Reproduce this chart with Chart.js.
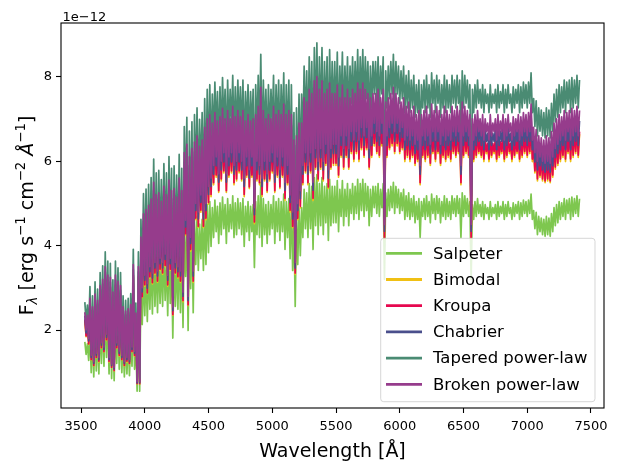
<!DOCTYPE html>
<html><head><meta charset="utf-8">
<script src="https://cdn.jsdelivr.net/npm/chart.js@4.4.0/dist/chart.umd.min.js"></script>
<style>html,body{margin:0;padding:0;background:#fff;}#wrap{width:618px;height:471px;}</style>
</head><body><div id="wrap"><canvas id="c" width="618" height="471"></canvas></div>
<script>
// Wavelength grid [Å]
const wavelength = [
3530,3540,3550,3560,3570,3580,3590,3600,3610,3620,
3630,3640,3650,3660,3670,3680,3690,3700,3710,3720,
3730,3740,3750,3760,3770,3780,3790,3800,3810,3820,
3830,3840,3850,3860,3870,3880,3890,3900,3910,3920,
3930,3940,3950,3960,3970,3980,3990,4000,4010,4020,
4030,4040,4050,4060,4070,4080,4090,4100,4110,4120,
4130,4140,4150,4160,4170,4180,4190,4200,4210,4220,
4230,4240,4250,4260,4270,4280,4290,4300,4310,4320,
4330,4340,4350,4360,4370,4380,4390,4400,4410,4420,
4430,4440,4450,4460,4470,4480,4490,4500,4510,4520,
4530,4540,4550,4560,4570,4580,4590,4600,4610,4620,
4630,4640,4650,4660,4670,4680,4690,4700,4710,4720,
4730,4740,4750,4760,4770,4780,4790,4800,4810,4820,
4830,4840,4850,4860,4870,4880,4890,4900,4910,4920,
4930,4940,4950,4960,4970,4980,4990,5000,5010,5020,
5030,5040,5050,5060,5070,5080,5090,5100,5110,5120,
5130,5140,5150,5160,5170,5180,5190,5200,5210,5220,
5230,5240,5250,5260,5270,5280,5290,5300,5310,5320,
5330,5340,5350,5360,5370,5380,5390,5400,5410,5420,
5430,5440,5450,5460,5470,5480,5490,5500,5510,5520,
5530,5540,5550,5560,5570,5580,5590,5600,5610,5620,
5630,5640,5650,5660,5670,5680,5690,5700,5710,5720,
5730,5740,5750,5760,5770,5780,5790,5800,5810,5820,
5830,5840,5850,5860,5870,5880,5890,5900,5910,5920,
5930,5940,5950,5960,5970,5980,5990,6000,6010,6020,
6030,6040,6050,6060,6070,6080,6090,6100,6110,6120,
6130,6140,6150,6160,6170,6180,6190,6200,6210,6220,
6230,6240,6250,6260,6270,6280,6290,6300,6310,6320,
6330,6340,6350,6360,6370,6380,6390,6400,6410,6420,
6430,6440,6450,6460,6470,6480,6490,6500,6510,6520,
6530,6540,6550,6560,6570,6580,6590,6600,6610,6620,
6630,6640,6650,6660,6670,6680,6690,6700,6710,6720,
6730,6740,6750,6760,6770,6780,6790,6800,6810,6820,
6830,6840,6850,6860,6870,6880,6890,6900,6910,6920,
6930,6940,6950,6960,6970,6980,6990,7000,7010,7020,
7030,7040,7050,7060,7070,7080,7090,7100,7110,7120,
7130,7140,7150,7160,7170,7180,7190,7200,7210,7220,
7230,7240,7250,7260,7270,7280,7290,7300,7310,7320,
7330,7340,7350,7360,7370,7380,7390,7400,7410];

// Flux values in units of 1e-12 erg s^-1 cm^-2 Å^-1
const salpeter = [
1.72,1.42,1.67,1.28,1.95,0.99,1.81,0.89,2.02,1.03,
1.92,0.96,2.17,1.21,2.27,1.14,2.49,1.35,2.34,0.96,
2.31,0.85,2.06,0.80,2.34,1.21,2.24,1.07,2.17,0.99,
1.81,0.89,1.74,0.96,1.78,0.92,1.85,1.14,2.52,1.07,
1.70,0.55,2.49,0.55,2.98,2.13,3.37,2.34,3.44,2.20,
3.51,2.49,3.62,2.38,3.91,2.56,3.69,2.41,3.73,2.63,
3.59,2.56,3.83,2.70,3.69,2.34,3.94,2.63,3.76,1.81,
3.80,2.56,3.66,2.49,3.98,2.41,3.76,2.06,4.40,3.27,
4.54,1.99,4.33,2.98,4.47,2.41,4.58,3.55,4.69,3.41,
4.51,3.69,4.62,3.41,4.83,3.55,4.97,3.83,5.04,3.98,
4.90,4.19,5.08,4.33,4.93,4.05,5.01,4.26,5.15,4.40,
4.97,4.05,5.11,4.33,4.97,4.40,5.18,4.19,5.01,4.26,
5.11,4.40,5.01,4.26,5.11,3.98,4.93,4.33,5.04,4.12,
4.93,4.33,4.97,3.48,5.04,4.26,5.18,4.19,5.50,3.98,
5.11,4.26,4.97,4.05,5.04,4.26,4.97,4.40,5.18,4.05,
5.04,4.33,5.11,4.12,5.04,4.33,5.22,3.91,5.04,4.19,
5.11,3.69,5.04,3.41,4.62,2.56,4.69,3.55,4.90,3.76,
4.90,4.19,5.33,4.40,5.25,4.19,5.47,4.40,5.40,3.91,
5.61,4.47,5.68,4.26,5.47,4.47,5.61,4.26,5.40,4.54,
5.47,4.12,5.57,4.47,5.40,4.54,5.40,4.54,5.54,4.33,
5.33,4.69,5.54,4.47,5.33,4.69,5.47,4.47,5.33,4.76,
5.47,4.62,5.40,4.76,5.57,4.62,5.47,4.83,5.57,4.69,
5.47,4.83,5.40,4.47,5.33,4.69,5.40,4.90,5.40,4.76,
5.47,4.69,5.33,4.90,5.47,3.20,5.25,4.69,5.33,4.83,
5.40,4.90,5.50,4.76,5.40,4.90,5.33,4.76,5.25,4.83,
5.33,4.62,5.18,4.69,5.25,4.62,5.11,4.69,5.18,4.54,
5.04,4.62,5.11,4.19,5.04,4.69,5.11,4.62,5.18,4.69,
5.04,4.54,5.22,4.76,5.11,4.62,5.18,4.76,5.11,4.54,
5.04,4.69,5.18,4.62,5.11,4.69,5.04,4.62,5.18,4.76,
5.11,4.69,5.18,4.76,5.11,4.19,5.25,4.69,5.18,4.76,
5.11,4.69,5.04,3.20,4.97,4.62,5.04,4.69,5.11,4.76,
4.97,4.69,5.04,4.62,4.97,4.76,4.90,4.62,5.04,4.69,
4.90,4.76,4.97,4.62,5.04,4.69,4.93,4.76,5.04,4.62,
4.97,4.69,5.04,4.76,4.90,4.62,5.01,4.69,4.97,4.76,
5.04,4.62,5.01,4.69,5.08,4.76,5.04,4.69,5.08,4.76,
5.22,4.62,4.83,4.40,4.79,4.26,4.69,4.33,4.65,4.26,
4.62,4.22,4.69,4.26,4.65,4.22,4.76,4.33,4.90,4.47,
4.97,4.54,5.04,4.62,5.01,4.69,5.11,4.62,5.08,4.76,
5.11,4.62,5.15,4.69,5.11,4.76,5.18,4.69,5.11];

const bimodal = [
2.23,1.84,2.17,1.66,2.54,1.29,2.35,1.15,2.63,1.34,
2.49,1.24,2.81,1.57,2.95,1.48,3.23,1.75,3.04,1.24,
3.00,1.11,2.67,1.03,3.04,1.57,2.90,1.38,2.81,1.29,
2.35,1.15,2.26,1.24,2.31,1.20,2.40,1.48,3.27,1.38,
2.21,0.72,3.23,0.72,3.87,2.77,4.38,3.04,4.47,2.86,
4.56,3.23,4.70,3.09,5.07,3.32,4.79,3.13,4.84,3.41,
4.66,3.32,4.98,3.50,4.79,3.04,5.12,3.41,4.89,2.35,
4.93,3.32,4.75,3.23,5.16,3.13,4.89,2.67,5.72,4.24,
5.90,2.58,5.62,3.87,5.81,3.13,5.95,4.61,6.09,4.43,
5.85,4.79,5.99,4.43,6.27,4.61,6.45,4.98,6.55,5.16,
6.36,5.44,6.59,5.62,6.41,5.26,6.50,5.53,6.68,5.72,
6.45,5.26,6.64,5.62,6.45,5.72,6.73,5.44,6.50,5.53,
6.64,5.72,6.50,5.53,6.64,5.16,6.41,5.62,6.55,5.35,
6.41,5.62,6.45,4.52,6.55,5.53,6.73,5.44,7.15,5.16,
6.64,5.53,6.45,5.26,6.55,5.53,6.45,5.72,6.73,5.26,
6.55,5.62,6.64,5.35,6.55,5.62,6.78,5.07,6.55,5.44,
6.64,4.79,6.55,4.43,5.99,3.32,6.09,4.61,6.36,4.89,
6.36,5.44,6.92,5.72,6.82,5.44,7.10,5.72,7.01,5.07,
7.28,5.81,7.38,5.53,7.10,5.81,7.28,5.53,7.01,5.90,
7.10,5.35,7.24,5.81,7.01,5.90,7.01,5.90,7.19,5.62,
6.92,6.09,7.19,5.81,6.92,6.09,7.10,5.81,6.92,6.18,
7.10,5.99,7.01,6.18,7.24,5.99,7.10,6.27,7.24,6.09,
7.10,6.27,7.01,5.81,6.92,6.09,7.01,6.36,7.01,6.18,
7.10,6.09,6.92,6.36,7.10,4.15,6.82,6.09,6.92,6.27,
7.01,6.36,7.15,6.18,7.01,6.36,6.92,6.18,6.82,6.27,
6.92,5.99,6.73,6.09,6.82,5.99,6.64,6.09,6.73,5.90,
6.55,5.99,6.64,5.44,6.55,6.09,6.64,5.99,6.73,6.09,
6.55,5.90,6.78,6.18,6.64,5.99,6.73,6.18,6.64,5.90,
6.55,6.09,6.73,5.99,6.64,6.09,6.55,5.99,6.73,6.18,
6.64,6.09,6.73,6.18,6.64,5.44,6.82,6.09,6.73,6.18,
6.64,6.09,6.55,4.15,6.45,5.99,6.55,6.09,6.64,6.18,
6.45,6.09,6.55,5.99,6.45,6.18,6.36,5.99,6.55,6.09,
6.36,6.18,6.45,5.99,6.55,6.09,6.41,6.18,6.55,5.99,
6.45,6.09,6.55,6.18,6.36,5.99,6.50,6.09,6.45,6.18,
6.55,5.99,6.50,6.09,6.59,6.18,6.55,6.09,6.59,6.18,
6.78,5.99,6.27,5.72,6.22,5.53,6.09,5.62,6.04,5.53,
5.99,5.49,6.09,5.53,6.04,5.49,6.18,5.62,6.36,5.81,
6.45,5.90,6.55,5.99,6.50,6.09,6.64,5.99,6.59,6.18,
6.64,5.99,6.68,6.09,6.64,6.18,6.73,6.09,6.64];

const kroupa = [
2.25,1.86,2.19,1.67,2.56,1.30,2.37,1.16,2.65,1.35,
2.51,1.26,2.84,1.58,2.98,1.49,3.26,1.77,3.07,1.26,
3.02,1.12,2.70,1.04,3.07,1.58,2.93,1.40,2.84,1.30,
2.37,1.16,2.28,1.26,2.33,1.21,2.42,1.49,3.30,1.40,
2.23,0.73,3.26,0.73,3.91,2.79,4.42,3.07,4.51,2.88,
4.60,3.26,4.74,3.12,5.12,3.35,4.84,3.16,4.88,3.44,
4.70,3.35,5.02,3.53,4.84,3.07,5.16,3.44,4.93,2.37,
4.98,3.35,4.79,3.26,5.21,3.16,4.93,2.70,5.77,4.28,
5.95,2.60,5.67,3.91,5.86,3.16,6.00,4.65,6.14,4.46,
5.91,4.84,6.05,4.46,6.32,4.65,6.51,5.02,6.60,5.21,
6.42,5.49,6.65,5.67,6.46,5.30,6.56,5.58,6.74,5.77,
6.51,5.30,6.70,5.67,6.51,5.77,6.79,5.49,6.56,5.58,
6.70,5.77,6.56,5.58,6.70,5.21,6.46,5.67,6.60,5.39,
6.46,5.67,6.51,4.56,6.60,5.58,6.79,5.49,7.21,5.21,
6.70,5.58,6.51,5.30,6.60,5.58,6.51,5.77,6.79,5.30,
6.60,5.67,6.70,5.39,6.60,5.67,6.84,5.12,6.60,5.49,
6.70,4.84,6.60,4.46,6.05,3.35,6.14,4.65,6.42,4.93,
6.42,5.49,6.98,5.77,6.88,5.49,7.16,5.77,7.07,5.12,
7.35,5.86,7.44,5.58,7.16,5.86,7.35,5.58,7.07,5.95,
7.16,5.39,7.30,5.86,7.07,5.95,7.07,5.95,7.25,5.67,
6.98,6.14,7.25,5.86,6.98,6.14,7.16,5.86,6.98,6.23,
7.16,6.05,7.07,6.23,7.30,6.05,7.16,6.32,7.30,6.14,
7.16,6.32,7.07,5.86,6.98,6.14,7.07,6.42,7.07,6.23,
7.16,6.14,6.98,6.42,7.16,4.19,6.88,6.14,6.98,6.32,
7.07,6.42,7.21,6.23,7.07,6.42,6.98,6.23,6.88,6.32,
6.98,6.05,6.79,6.14,6.88,6.05,6.70,6.14,6.79,5.95,
6.60,6.05,6.70,5.49,6.60,6.14,6.70,6.05,6.79,6.14,
6.60,5.95,6.84,6.23,6.70,6.05,6.79,6.23,6.70,5.95,
6.60,6.14,6.79,6.05,6.70,6.14,6.60,6.05,6.79,6.23,
6.70,6.14,6.79,6.23,6.70,5.49,6.88,6.14,6.79,6.23,
6.70,6.14,6.60,4.19,6.51,6.05,6.60,6.14,6.70,6.23,
6.51,6.14,6.60,6.05,6.51,6.23,6.42,6.05,6.60,6.14,
6.42,6.23,6.51,6.05,6.60,6.14,6.46,6.23,6.60,6.05,
6.51,6.14,6.60,6.23,6.42,6.05,6.56,6.14,6.51,6.23,
6.60,6.05,6.56,6.14,6.65,6.23,6.60,6.14,6.65,6.23,
6.84,6.05,6.32,5.77,6.28,5.58,6.14,5.67,6.09,5.58,
6.05,5.53,6.14,5.58,6.09,5.53,6.23,5.67,6.42,5.86,
6.51,5.95,6.60,6.05,6.56,6.14,6.70,6.05,6.65,6.23,
6.70,6.05,6.74,6.14,6.70,6.23,6.79,6.14,6.70];

const chabrier = [
2.34,1.93,2.27,1.74,2.65,1.35,2.46,1.21,2.75,1.40,
2.61,1.30,2.94,1.64,3.09,1.54,3.38,1.83,3.18,1.30,
3.14,1.16,2.80,1.08,3.18,1.64,3.04,1.45,2.94,1.35,
2.46,1.21,2.36,1.30,2.41,1.25,2.51,1.54,3.43,1.45,
2.32,0.75,3.38,0.75,4.05,2.90,4.58,3.18,4.68,2.99,
4.78,3.38,4.92,3.23,5.31,3.47,5.02,3.28,5.07,3.57,
4.87,3.47,5.21,3.67,5.02,3.18,5.36,3.57,5.11,2.46,
5.16,3.47,4.97,3.38,5.40,3.28,5.11,2.80,5.98,4.44,
6.18,2.70,5.89,4.05,6.08,3.28,6.22,4.83,6.37,4.63,
6.13,5.02,6.27,4.63,6.56,4.83,6.76,5.21,6.85,5.40,
6.66,5.69,6.90,5.89,6.71,5.50,6.80,5.79,7.00,5.98,
6.76,5.50,6.95,5.89,6.76,5.98,7.04,5.69,6.80,5.79,
6.95,5.98,6.80,5.79,6.95,5.40,6.71,5.89,6.85,5.60,
6.71,5.89,6.76,4.73,6.85,5.79,7.04,5.69,7.48,5.40,
6.95,5.79,6.76,5.50,6.85,5.79,6.76,5.98,7.04,5.50,
6.85,5.89,6.95,5.60,6.85,5.89,7.09,5.31,6.85,5.69,
6.95,5.02,6.85,4.63,6.27,3.47,6.37,4.83,6.66,5.11,
6.66,5.69,7.24,5.98,7.14,5.69,7.43,5.98,7.33,5.31,
7.62,6.08,7.72,5.79,7.43,6.08,7.62,5.79,7.33,6.18,
7.43,5.60,7.58,6.08,7.33,6.18,7.33,6.18,7.53,5.89,
7.24,6.37,7.53,6.08,7.24,6.37,7.43,6.08,7.24,6.47,
7.43,6.27,7.33,6.47,7.58,6.27,7.43,6.56,7.58,6.37,
7.43,6.56,7.33,6.08,7.24,6.37,7.33,6.66,7.33,6.47,
7.43,6.37,7.24,6.66,7.43,4.34,7.14,6.37,7.24,6.56,
7.33,6.66,7.48,6.47,7.33,6.66,7.24,6.47,7.14,6.56,
7.24,6.27,7.04,6.37,7.14,6.27,6.95,6.37,7.04,6.18,
6.85,6.27,6.95,5.69,6.85,6.37,6.95,6.27,7.04,6.37,
6.85,6.18,7.09,6.47,6.95,6.27,7.04,6.47,6.95,6.18,
6.85,6.37,7.04,6.27,6.95,6.37,6.85,6.27,7.04,6.47,
6.95,6.37,7.04,6.47,6.95,5.69,7.14,6.37,7.04,6.47,
6.95,6.37,6.85,4.34,6.76,6.27,6.85,6.37,6.95,6.47,
6.76,6.37,6.85,6.27,6.76,6.47,6.66,6.27,6.85,6.37,
6.66,6.47,6.76,6.27,6.85,6.37,6.71,6.47,6.85,6.27,
6.76,6.37,6.85,6.47,6.66,6.27,6.80,6.37,6.76,6.47,
6.85,6.27,6.80,6.37,6.90,6.47,6.85,6.37,6.90,6.47,
7.09,6.27,6.56,5.98,6.51,5.79,6.37,5.89,6.32,5.79,
6.27,5.74,6.37,5.79,6.32,5.74,6.47,5.89,6.66,6.08,
6.76,6.18,6.85,6.27,6.80,6.37,6.95,6.27,6.90,6.47,
6.95,6.27,7.00,6.37,6.95,6.47,7.04,6.37,6.95];

const taperedPowerLaw = [
2.66,2.20,2.59,1.98,3.03,1.54,2.81,1.38,3.14,1.60,
2.97,1.49,3.36,1.87,3.52,1.76,3.85,2.09,3.63,1.49,
3.58,1.32,3.19,1.23,3.63,1.87,3.47,1.65,3.36,1.54,
2.81,1.38,2.70,1.49,2.75,1.43,2.86,1.76,3.91,1.65,
2.64,0.86,3.85,0.86,4.62,3.30,5.23,3.63,5.34,3.41,
5.45,3.85,5.61,3.69,6.05,3.96,5.72,3.74,5.78,4.07,
5.56,3.96,5.94,4.18,5.72,3.63,6.11,4.07,5.83,2.81,
5.89,3.96,5.67,3.85,6.16,3.74,5.83,3.19,6.82,5.06,
7.04,3.08,6.71,4.62,6.93,3.74,7.10,5.50,7.26,5.28,
6.99,5.72,7.15,5.28,7.48,5.50,7.70,5.94,7.81,6.16,
7.59,6.49,7.87,6.71,7.65,6.27,7.76,6.60,7.98,6.82,
7.70,6.27,7.92,6.71,7.70,6.82,8.03,6.49,7.76,6.60,
7.92,6.82,7.76,6.60,7.92,6.16,7.65,6.71,7.81,6.38,
7.65,6.71,7.70,5.39,7.81,6.60,8.03,6.49,8.53,6.16,
7.92,6.60,7.70,6.27,7.81,6.60,7.70,6.82,8.03,6.27,
7.81,6.71,7.92,6.38,7.81,6.71,8.09,6.05,7.81,6.49,
7.92,5.72,7.81,5.28,7.15,3.96,7.26,5.50,7.59,5.83,
7.59,6.49,8.25,6.82,8.14,6.49,8.47,6.82,8.36,6.05,
8.69,6.93,8.80,6.60,8.47,6.93,8.69,6.60,8.36,7.04,
8.47,6.38,8.64,6.93,8.36,7.04,8.36,7.04,8.58,6.71,
8.25,7.26,8.58,6.93,8.25,7.26,8.47,6.93,8.25,7.37,
8.47,7.15,8.36,7.37,8.64,7.15,8.47,7.48,8.64,7.26,
8.47,7.48,8.36,6.93,8.25,7.26,8.36,7.59,8.36,7.37,
8.47,7.26,8.25,7.59,8.47,4.95,8.14,7.26,8.25,7.48,
8.36,7.59,8.53,7.37,8.36,7.59,8.25,7.37,8.14,7.48,
8.25,7.15,8.03,7.26,8.14,7.15,7.92,7.26,8.03,7.04,
7.81,7.15,7.92,6.49,7.81,7.26,7.92,7.15,8.03,7.26,
7.81,7.04,8.09,7.37,7.92,7.15,8.03,7.37,7.92,7.04,
7.81,7.26,8.03,7.15,7.92,7.26,7.81,7.15,8.03,7.37,
7.92,7.26,8.03,7.37,7.92,6.49,8.14,7.26,8.03,7.37,
7.92,7.26,7.81,4.95,7.70,7.15,7.81,7.26,7.92,7.37,
7.70,7.26,7.81,7.15,7.70,7.37,7.59,7.15,7.81,7.26,
7.59,7.37,7.70,7.15,7.81,7.26,7.65,7.37,7.81,7.15,
7.70,7.26,7.81,7.37,7.59,7.15,7.76,7.26,7.70,7.37,
7.81,7.15,7.76,7.26,7.87,7.37,7.81,7.26,7.87,7.37,
8.09,7.15,7.48,6.82,7.43,6.60,7.26,6.71,7.21,6.60,
7.15,6.55,7.26,6.60,7.21,6.55,7.37,6.71,7.59,6.93,
7.70,7.04,7.81,7.15,7.76,7.26,7.92,7.15,7.87,7.37,
7.92,7.15,7.98,7.26,7.92,7.37,8.03,7.26,7.92];

const brokenPowerLaw = [
2.42,2.00,2.35,1.80,2.75,1.40,2.55,1.25,2.85,1.45,
2.70,1.35,3.05,1.70,3.20,1.60,3.50,1.90,3.30,1.35,
3.25,1.20,2.90,1.12,3.30,1.70,3.15,1.50,3.05,1.40,
2.55,1.25,2.45,1.35,2.50,1.30,2.60,1.60,3.55,1.50,
2.40,0.78,3.50,0.78,4.20,3.00,4.75,3.30,4.85,3.10,
4.95,3.50,5.10,3.35,5.50,3.60,5.20,3.40,5.25,3.70,
5.05,3.60,5.40,3.80,5.20,3.30,5.55,3.70,5.30,2.55,
5.35,3.60,5.15,3.50,5.60,3.40,5.30,2.90,6.20,4.60,
6.40,2.80,6.10,4.20,6.30,3.40,6.45,5.00,6.60,4.80,
6.35,5.20,6.50,4.80,6.80,5.00,7.00,5.40,7.10,5.60,
6.90,5.90,7.15,6.10,6.95,5.70,7.05,6.00,7.25,6.20,
7.00,5.70,7.20,6.10,7.00,6.20,7.30,5.90,7.05,6.00,
7.20,6.20,7.05,6.00,7.20,5.60,6.95,6.10,7.10,5.80,
6.95,6.10,7.00,4.90,7.10,6.00,7.30,5.90,7.75,5.60,
7.20,6.00,7.00,5.70,7.10,6.00,7.00,6.20,7.30,5.70,
7.10,6.10,7.20,5.80,7.10,6.10,7.35,5.50,7.10,5.90,
7.20,5.20,7.10,4.80,6.50,3.60,6.60,5.00,6.90,5.30,
6.90,5.90,7.50,6.20,7.40,5.90,7.70,6.20,7.60,5.50,
7.90,6.30,8.00,6.00,7.70,6.30,7.90,6.00,7.60,6.40,
7.70,5.80,7.85,6.30,7.60,6.40,7.60,6.40,7.80,6.10,
7.50,6.60,7.80,6.30,7.50,6.60,7.70,6.30,7.50,6.70,
7.70,6.50,7.60,6.70,7.85,6.50,7.70,6.80,7.85,6.60,
7.70,6.80,7.60,6.30,7.50,6.60,7.60,6.90,7.60,6.70,
7.70,6.60,7.50,6.90,7.70,4.50,7.40,6.60,7.50,6.80,
7.60,6.90,7.75,6.70,7.60,6.90,7.50,6.70,7.40,6.80,
7.50,6.50,7.30,6.60,7.40,6.50,7.20,6.60,7.30,6.40,
7.10,6.50,7.20,5.90,7.10,6.60,7.20,6.50,7.30,6.60,
7.10,6.40,7.35,6.70,7.20,6.50,7.30,6.70,7.20,6.40,
7.10,6.60,7.30,6.50,7.20,6.60,7.10,6.50,7.30,6.70,
7.20,6.60,7.30,6.70,7.20,5.90,7.40,6.60,7.30,6.70,
7.20,6.60,7.10,4.50,7.00,6.50,7.10,6.60,7.20,6.70,
7.00,6.60,7.10,6.50,7.00,6.70,6.90,6.50,7.10,6.60,
6.90,6.70,7.00,6.50,7.10,6.60,6.95,6.70,7.10,6.50,
7.00,6.60,7.10,6.70,6.90,6.50,7.05,6.60,7.00,6.70,
7.10,6.50,7.05,6.60,7.15,6.70,7.10,6.60,7.15,6.70,
7.35,6.50,6.80,6.20,6.75,6.00,6.60,6.10,6.55,6.00,
6.50,5.95,6.60,6.00,6.55,5.95,6.70,6.10,6.90,6.30,
7.00,6.40,7.10,6.50,7.05,6.60,7.20,6.50,7.15,6.70,
7.20,6.50,7.25,6.60,7.20,6.70,7.30,6.60,7.20];

const seriesNames = ['Salpeter','Bimodal','Kroupa','Chabrier','Tapered power-law','Broken power-law'];
const seriesColors = ['#7ec74f','#f0c014','#e6084f','#4a4f8c','#4a8b73','#963c8c'];
const seriesValues = [salpeter, bimodal, kroupa, chabrier, taperedPowerLaw, brokenPowerLaw];
const xTickValues = [3500,4000,4500,5000,5500,6000,6500,7000,7500];
const yTickValues = [2,4,6,8];

const FONT = "'DejaVu Sans', 'Liberation Sans', sans-serif";
Chart.defaults.font.family = FONT;

const decorations = {
  id: 'decorations',
  afterDraw(chart) {
    const ctx = chart.ctx;
    const a = chart.chartArea;
    ctx.save();
    ctx.strokeStyle = '#000';
    ctx.lineWidth = 1.1;
    ctx.strokeRect(a.left, a.top, a.right - a.left, a.bottom - a.top);
    ctx.fillStyle = '#000';
    ctx.font = '13px ' + FONT;
    ctx.textBaseline = 'alphabetic';
    ctx.textAlign = 'left';
    ctx.fillText('1e\u221212', a.left + 1.5, 20.5);

    const parts = [
      {t:'F', s:19, dy:0, it:false},
      {t:'\u03bb', s:13.3, dy:4, it:true},
      {t:' [erg s', s:19, dy:0, it:false},
      {t:'\u22121', s:13.3, dy:-8, it:false},
      {t:' cm', s:19, dy:0, it:false},
      {t:'\u22122', s:13.3, dy:-8, it:false},
      {t:' ', s:19, dy:0, it:false},
      {t:'\u00c5', s:19, dy:0, it:true},
      {t:'\u22121', s:13.3, dy:-8, it:false},
      {t:']', s:19, dy:0, it:false}
    ];
    let total = 0;
    parts.forEach(p => { ctx.font = (p.it ? 'italic ' : '') + p.s + 'px ' + FONT; p.w = ctx.measureText(p.t).width; total += p.w; });
    ctx.translate(33, (a.top + a.bottom) / 2);
    ctx.rotate(-Math.PI / 2);
    let x = -total / 2;
    parts.forEach(p => {
      ctx.font = (p.it ? 'italic ' : '') + p.s + 'px ' + FONT;
      ctx.fillText(p.t, x, p.dy);
      x += p.w;
    });
    ctx.restore();

    ctx.save();
    const lx = 380.7, ly = 238.3, lw = 214.3, lh = 163.4, r = 3;
    ctx.beginPath();
    ctx.moveTo(lx + r, ly);
    ctx.lineTo(lx + lw - r, ly);
    ctx.quadraticCurveTo(lx + lw, ly, lx + lw, ly + r);
    ctx.lineTo(lx + lw, ly + lh - r);
    ctx.quadraticCurveTo(lx + lw, ly + lh, lx + lw - r, ly + lh);
    ctx.lineTo(lx + r, ly + lh);
    ctx.quadraticCurveTo(lx, ly + lh, lx, ly + lh - r);
    ctx.lineTo(lx, ly + r);
    ctx.quadraticCurveTo(lx, ly, lx + r, ly);
    ctx.closePath();
    ctx.fillStyle = 'rgba(255,255,255,0.8)';
    ctx.fill();
    ctx.strokeStyle = 'rgba(204,204,204,0.8)';
    ctx.lineWidth = 1;
    ctx.stroke();
    ctx.font = '16.5px ' + FONT;
    ctx.textBaseline = 'middle';
    ctx.textAlign = 'left';
    seriesNames.forEach((name, i) => {
      const yy = 253.3 + i * 26.2;
      ctx.strokeStyle = seriesColors[i];
      ctx.lineWidth = 2.8;
      ctx.beginPath();
      ctx.moveTo(386, yy);
      ctx.lineTo(422, yy);
      ctx.stroke();
      ctx.fillStyle = '#000';
      ctx.fillText(name, 433, yy + 1);
    });
    ctx.restore();
  }
};

const datasets = seriesNames.map((name, k) => ({
  label: name,
  data: wavelength.map((w, i) => ({x: w, y: seriesValues[k][i]})),
  borderColor: seriesColors[k],
  backgroundColor: seriesColors[k],
  borderWidth: 1.7,
  pointRadius: 0,
  tension: 0,
  fill: false,
  borderJoinStyle: 'round',
  borderCapStyle: 'butt',
  order: seriesNames.length - 1 - k
}));

new Chart(document.getElementById('c'), {
  type: 'line',
  data: {datasets},
  options: {
    responsive: false,
    animation: false,
    devicePixelRatio: 1,
    layout: {padding: {left: 0, right: 14, top: 23, bottom: 0}},
    plugins: {legend: {display: false}, tooltip: {enabled: false}},
    scales: {
      x: {
        type: 'linear', min: 3343, max: 7602,
        afterBuildTicks: s => { s.ticks = xTickValues.map(v => ({value: v})); },
        afterFit: s => { s.height = 63; },
        border: {display: false},
        grid: {display: true, drawOnChartArea: false, drawTicks: true, tickLength: 5, tickWidth: 1.1, tickColor: '#000', color: '#000'},
        ticks: {color: '#000', font: {size: 13}, padding: 6, maxRotation: 0, autoSkip: false, callback: v => String(v)},
        title: {display: true, text: 'Wavelength [\u00c5]', color: '#000', font: {size: 19}, padding: {top: 0, bottom: 7.5}}
      },
      y: {
        type: 'linear', min: 0.153, max: 9.272,
        afterBuildTicks: s => { s.ticks = yTickValues.map(v => ({value: v})); },
        afterFit: s => { s.width = 61; },
        border: {display: false},
        grid: {display: true, drawOnChartArea: false, drawTicks: true, tickLength: 5, tickWidth: 1.1, tickColor: '#000', color: '#000'},
        ticks: {color: '#000', font: {size: 13}, padding: 4, callback: v => String(v)}
      }
    }
  },
  plugins: [decorations]
});
</script>
</body></html>
